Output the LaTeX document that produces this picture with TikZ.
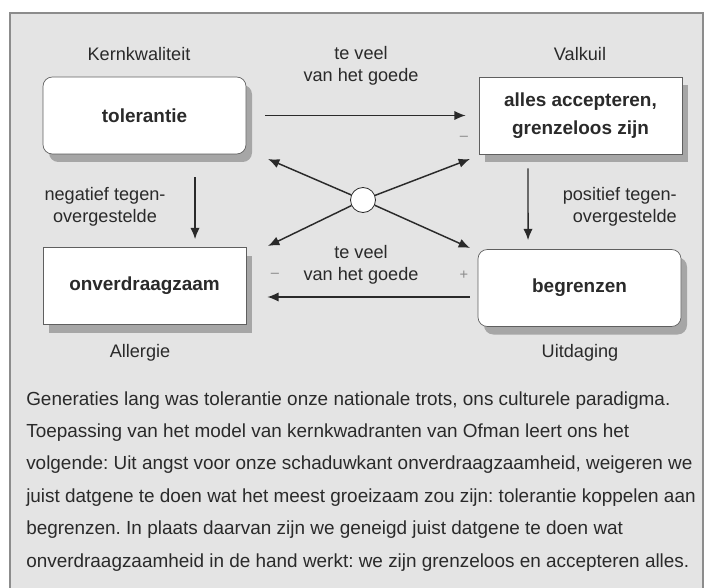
\documentclass[tikz,border=0pt]{standalone}
\usepackage{fontspec}
\setmainfont{Liberation Sans}
\usetikzlibrary{arrows.meta,shadows}
\definecolor{framegray}{HTML}{E4E4E4}
\definecolor{edgegray}{HTML}{8C8C8C}
\definecolor{inkgray}{HTML}{2A2A2A}
\definecolor{shadegray}{HTML}{A6A6A6}
\definecolor{signgray}{HTML}{8A8A8A}

\begin{document}
\frenchspacing
\begin{tikzpicture}[x=0.75pt,y=0.75pt,yscale=-1,xscale=1,
  quad/.style={fill=white, draw=inkgray!75, line width=0.5pt, minimum width=152.25pt, minimum height=57.75pt,
    align=center, text=inkgray, font=\fontsize{14.2}{21}\selectfont\bfseries,
    general shadow={fill=shadegray, shadow xshift=4.5pt, shadow yshift=-6pt}},
  roundquad/.style={quad, rounded corners=7pt},
  arr/.style={draw=inkgray, line width=1.1pt, -{Latex[length=8.5pt,width=7pt]}},
  lbl/.style={inner sep=0.75pt, text=inkgray, font=\fontsize{13.6}{16.5}\selectfont},
  sign/.style={inner sep=0.75pt, text=signgray, font=\fontsize{11}{12}\selectfont},
  ]
\useasboundingbox (0,0) rectangle (706,588);

%Shape: Frame
\fill[white] (0,0) rectangle (706,588);
\fill[framegray] (10,13) rectangle (703,600);
\draw[edgegray, line width=1pt] (10,600) -- (10,13) -- (703,13) -- (703,600);

%Shape: Quadrant boxes
\draw (144.5,115.5) node [roundquad] (tol) {tolerantie};
\draw (580.5,115.5) node [quad] (acc) {alles accepteren,\\grenzeloos zijn};
\draw (144.5,286) node [quad] (onv) {onverdraagzaam};
\draw (579.5,288) node [roundquad] (beg) {begrenzen};

% Text Node
\draw (139,54) node [lbl] (kern) {Kernkwaliteit};
% Text Node
\draw (580,54) node [lbl] (valk) {Valkuil};
% Text Node
\draw (140,353) node [lbl] (allg) {Allergie};
% Text Node
\draw (580,353) node [lbl] (uitd) {Uitdaging};
% Text Node
\draw (361,66) node [lbl, align=center] (veelboven) {te veel\\van het goede};
% Text Node
\draw (361,265) node [lbl, align=center] (veelonder) {te veel\\van het goede};
% Text Node
\draw (105,207) node [lbl, align=center] (negatief) {negatief tegen-\\overgestelde};
% Text Node
\draw (678,207) node [lbl, align=right, anchor=east] (positief) {positief tegen-\\overgestelde};

% signs
\draw (464,138) node [sign] (minA) {--};
\draw (275,275) node [sign] (minB) {--};
\draw (464,275) node [sign] (plusB) {+};

%Shape: Circle
\draw (363,200) node [circle, draw=inkgray, fill=white, line width=0.6pt, minimum size=18.75pt, inner sep=0pt] (hub) {};
\coordinate (tipTL) at (268,159);
\coordinate (tipTR) at (470,159);
\coordinate (tipBL) at (268,246);
\coordinate (tipBR) at (470,248);

% arrows
\draw[arr, shorten <=14.25pt, shorten >=9.75pt] (tol) -- (acc);
\draw[arr, shorten <=6pt, shorten >=15.75pt] ([yshift=6.75pt]beg.west) -- ([yshift=8.25pt]onv.east);
\draw[arr, shorten <=17pt, shorten >=6pt] ([xshift=37.9pt]tol.south) -- ([xshift=37.9pt]onv.north);
\draw[arr, shorten <=10.5pt, shorten >=6.75pt] ([xshift=-39.4pt]acc.south) -- ([xshift=-38.6pt]beg.north);
\draw[arr] (hub) -- (tipTL);
\draw[arr] (hub) -- (tipTR);
\draw[arr] (hub) -- (tipBL);
\draw[arr] (hub) -- (tipBR);

% Text Node
\foreach \regel [count=\i] in {%
  {Generaties lang was tolerantie onze nationale trots, ons culturele paradigma.},
  {Toepassing van het model van kernkwadranten van Ofman leert ons het},
  {volgende: Uit angst voor onze schaduwkant onverdraagzaamheid, weigeren we},
  {juist datgene te doen wat het meest groeizaam zou zijn: tolerantie koppelen aan},
  {begrenzen. In plaats daarvan zijn we geneigd juist datgene te doen wat},
  {onverdraagzaamheid in de hand werkt: we zijn grenzeloos en accepteren alles.}}
  \draw (26,{405+32.4*(\i-1)}) node [anchor=base west, inner sep=0pt, text=inkgray, font=\fontsize{14.2}{17}\selectfont] (regel\i) {\regel};
\end{tikzpicture}
\end{document}
